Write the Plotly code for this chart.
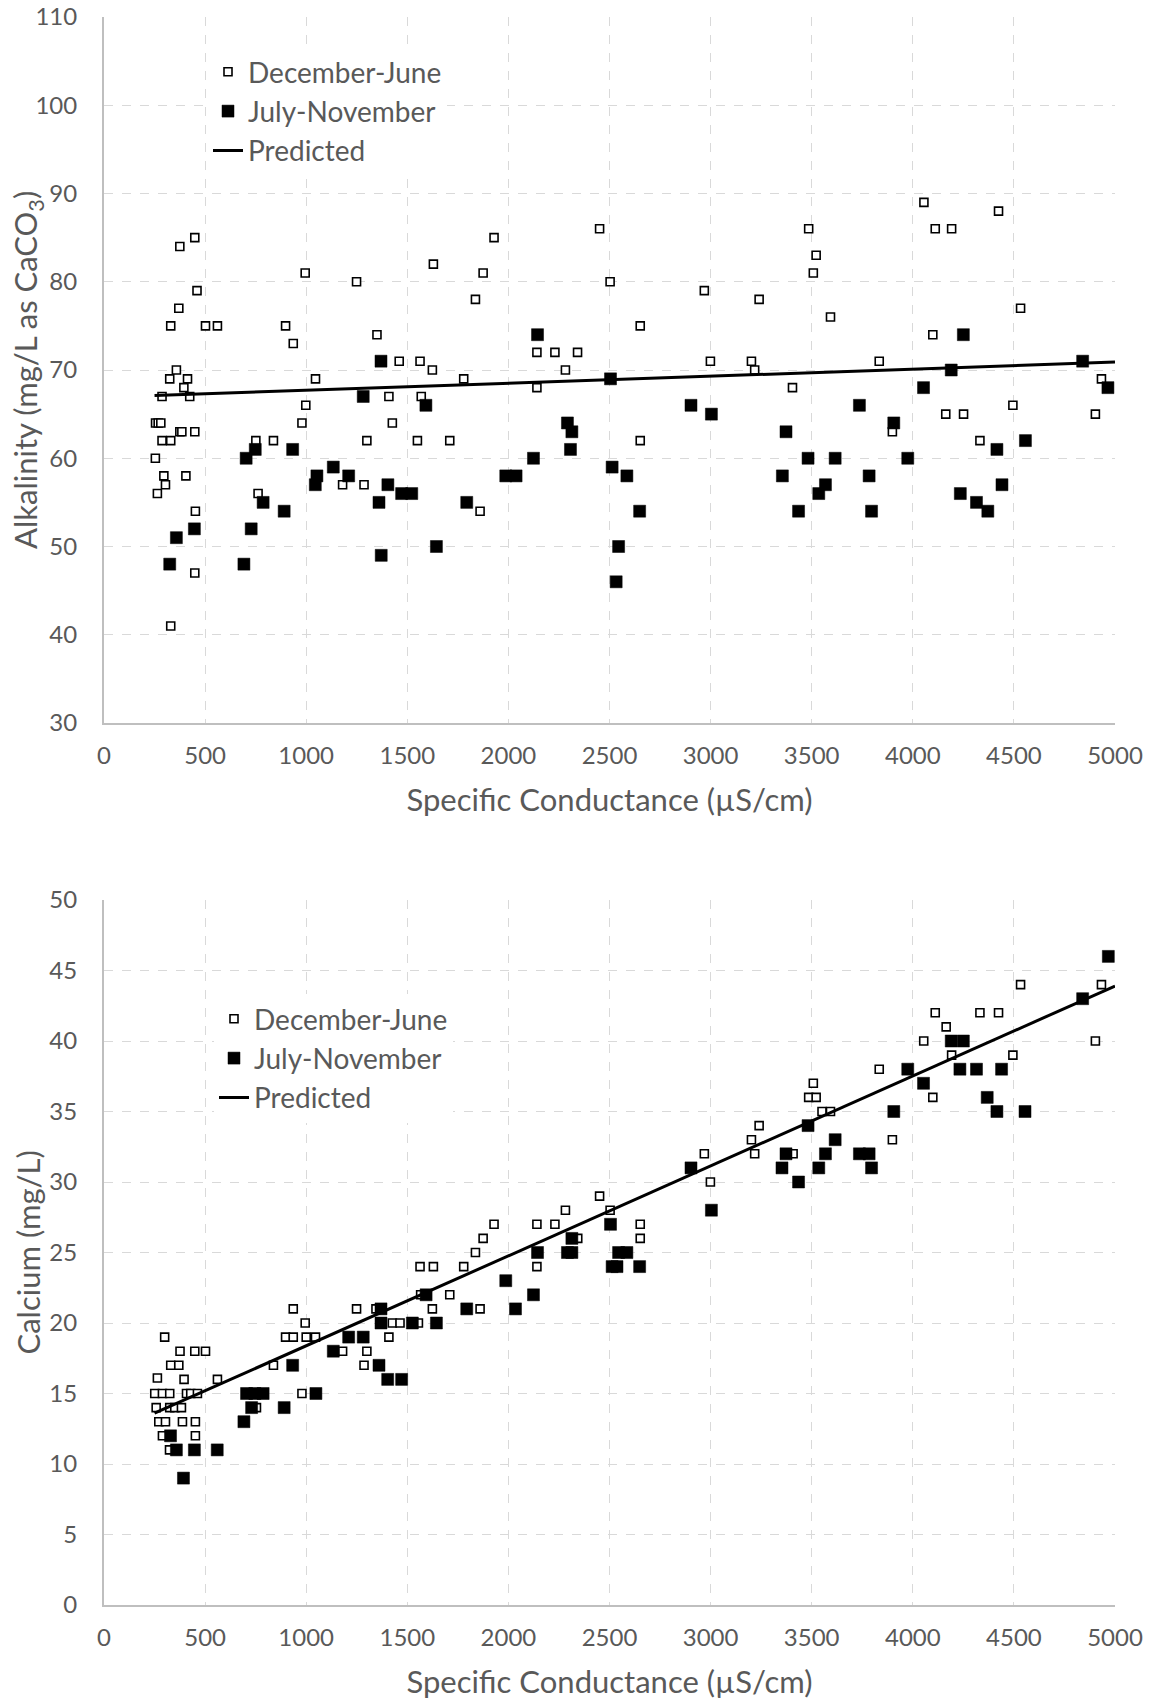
import plotly.graph_objects as go

# ---------------- Alkalinity (top) ----------------
alk_dec_x = [375, 449, 460, 370, 330, 502, 561, 898, 936, 995, 1249, 1350, 1629, 1460, 1563, 1624,
             358, 325, 413, 395, 1046, 287, 424, 1409, 1569, 998,
             255, 268, 281, 979, 1426, 287, 330, 375, 385, 449, 751, 838, 1300, 1550, 1710, 254,
             296, 405, 304, 264, 762, 1180, 1286, 452, 449, 330,
             1929, 1875, 1837, 2451, 2503, 2969, 3240, 2652, 2141, 2230, 2342, 2282, 2999, 3202, 3218,
             1779, 2141, 3405, 2652, 1860,
             3485, 3522, 3508, 3593, 3834, 4055, 4111, 4192, 4424, 4533, 4099, 4933, 4903, 4163, 4251,
             4495, 4332, 3899]
alk_dec_y = [84, 85, 79, 77, 75, 75, 75, 75, 73, 81, 80, 74, 82, 71, 71, 70,
             70, 69, 69, 68, 69, 67, 67, 67, 67, 66,
             64, 64, 64, 64, 64, 62, 62, 63, 63, 63, 62, 62, 62, 62, 62, 60,
             58, 58, 57, 56, 56, 57, 57, 54, 47, 41,
             85, 81, 78, 86, 80, 79, 78, 75, 72, 72, 72, 70, 71, 71, 70,
             69, 68, 68, 62, 54,
             86, 83, 81, 76, 71, 89, 86, 86, 88, 77, 74, 69, 65, 65, 65,
             66, 62, 63]

alk_jul_x = [1370, 1282, 1592, 703, 748, 933, 1134, 1053, 1045, 1210, 1404, 787, 1360, 1472, 1522,
             891, 447, 728, 358, 1644, 1371, 325, 692,
             2144, 2505, 2903, 3004, 2292, 2314, 2307, 3373, 2124, 1987, 2038, 2513, 2586, 3355,
             1794, 2649, 3435, 2545, 2533,
             4250, 4840, 4190, 4053, 4965, 3736, 3906, 4557, 4416, 3482, 3616, 3975, 3784, 3568,
             3535, 4441, 4235, 4315, 4371, 3796]
alk_jul_y = [71, 67, 66, 60, 61, 61, 59, 58, 57, 58, 57, 55, 55, 56, 56,
             54, 52, 52, 51, 50, 49, 48, 48,
             74, 69, 66, 65, 64, 63, 61, 63, 60, 58, 58, 59, 58, 58,
             55, 54, 54, 50, 46,
             74, 71, 70, 68, 68, 66, 64, 62, 61, 60, 60, 60, 58, 57,
             56, 57, 56, 55, 54, 54]

alk_pred_x = [250, 5000]
alk_pred_y = [67.1, 70.9]

# ---------------- Calcium (bottom) ----------------
ca_dec_x = [300, 376, 449, 502, 330, 370, 264, 396, 561, 251, 289, 325, 408, 429, 462,
            258, 325, 350, 383, 271, 304, 388, 452, 289, 452, 324,
            936, 995, 898, 936, 1000, 1046, 838, 979, 754, 1249, 1345, 1426, 1464, 1555, 1409,
            1180, 1300, 1286, 1563, 1629, 1566, 1624, 1710,
            1779, 1837, 1875, 1929, 1860, 2141, 2230, 2141, 2282, 2343, 2451, 2503, 2652, 2652,
            2969, 2999, 3202, 3240, 3218, 3408,
            3508, 3485, 3522, 3551, 3593, 3834, 3899, 4054, 4111, 4165, 4192, 4099, 4332, 4424,
            4533, 4495, 4933, 4903]
ca_dec_y = [19, 18, 18, 18, 17, 17, 16.1, 16, 16, 15, 15, 15, 15, 15, 15,
            14, 14, 14, 14, 13, 13, 13, 13, 12, 12, 11,
            21, 20, 19, 19, 19, 19, 17, 15, 14, 21, 21, 20, 20, 20, 19,
            18, 18, 17, 24, 24, 22, 21, 22,
            24, 25, 26, 27, 21, 27, 27, 24, 28, 26, 29, 28, 27, 26,
            32, 30, 33, 34, 32, 32,
            37, 36, 36, 35, 35, 38, 33, 40, 42, 41, 39, 36, 42, 42,
            44, 39, 44, 40]

ca_jul_x = [329, 358, 447, 560, 393, 692, 730, 705, 746, 787, 891, 933, 1048, 1134, 1210, 1282,
            1370, 1370, 1360, 1403, 1472, 1525, 1593, 1644,
            1794, 1987, 2035, 2124, 2144, 2292, 2314, 2314, 2505, 2513, 2537, 2545, 2586, 2649,
            2903, 3004, 3373, 3353, 3435,
            4967, 4840, 4190, 4250, 3975, 4233, 4315, 4439, 4053, 4368, 3906, 4416, 4555, 3482,
            3616, 3568, 3736, 3784, 3535, 3796]
ca_jul_y = [12, 11, 11, 11, 9, 13, 14, 15, 15, 15, 14, 17, 15, 18, 19, 19,
            21, 20, 17, 16, 16, 20, 22, 20,
            21, 23, 21, 22, 25, 25, 25, 26, 27, 24, 24, 25, 25, 24,
            31, 28, 32, 31, 30,
            46, 43, 40, 40, 38, 38, 38, 38, 37, 36, 35, 35, 35, 34,
            33, 32, 32, 32, 31, 31]

ca_pred_x = [250, 5000]
ca_pred_y = [13.6, 43.9]

x_ticks = list(range(0, 5001, 500))

TXT = "#595959"
GRID = "#d9d9d9"
AXL = "#bfbfbf"
FONT = "Lato"

fig = go.Figure()

def add_set(xa, ya, dx, dy, jx, jy, px, py, legend):
    fig.add_trace(go.Scatter(x=dx, y=dy, mode="markers", name="December-June",
                             xaxis=xa, yaxis=ya, legend=legend,
                             marker=dict(symbol="square", size=8, color="white",
                                         line=dict(color="black", width=1.6))))
    fig.add_trace(go.Scatter(x=jx, y=jy, mode="markers", name="July-November",
                             xaxis=xa, yaxis=ya, legend=legend,
                             marker=dict(symbol="square", size=12, color="black",
                                         line=dict(color="black", width=0.5))))
    fig.add_trace(go.Scatter(x=px, y=py, mode="lines", name="Predicted",
                             xaxis=xa, yaxis=ya, legend=legend,
                             line=dict(color="black", width=3)))

add_set("x", "y", alk_dec_x, alk_dec_y, alk_jul_x, alk_jul_y, alk_pred_x, alk_pred_y, "legend")
add_set("x2", "y2", ca_dec_x, ca_dec_y, ca_jul_x, ca_jul_y, ca_pred_x, ca_pred_y, "legend2")

W, H = 1151, 1702
ml, mr, mt, mb = 104, 36, 17, 97
ph = H - mt - mb

def pfy(py):
    return (H - mb - py) / ph

xcommon = dict(range=[0, 5000], tickvals=x_ticks, showgrid=True, gridcolor=GRID,
               griddash="dash", gridwidth=1, showline=True, linecolor=AXL, linewidth=2,
               zeroline=False, ticks="outside", ticklen=10, tickcolor="rgba(0,0,0,0)",
               automargin=False,
               tickfont=dict(family=FONT, size=24, color=TXT),
               title=dict(text="Specific Conductance (µS/cm)",
                          font=dict(family=FONT, size=31, color=TXT), standoff=22))
ycommon = dict(showgrid=True, gridcolor=GRID, griddash="dash", gridwidth=1,
               showline=True, linecolor=AXL, linewidth=2, zeroline=False,
               ticks="outside", ticklen=20, tickcolor="rgba(0,0,0,0)", automargin=False,
               tickfont=dict(family=FONT, size=24, color=TXT))

legcommon = dict(bgcolor="white", borderwidth=0, font=dict(family=FONT, size=28, color=TXT),
                 xanchor="left", yanchor="top", tracegroupgap=0, itemwidth=30)

top_dom = [pfy(723), 1]
bot_dom = [0, pfy(900)]

fig.update_layout(
    width=W, height=H, autosize=False,
    margin=dict(l=ml, r=mr, t=mt, b=mb),
    paper_bgcolor="white", plot_bgcolor="white",
    font=dict(family=FONT, color=TXT),
    xaxis=dict(domain=[0, 1], anchor="y", **xcommon),
    yaxis=dict(domain=top_dom, anchor="x", range=[30, 110], dtick=10, **ycommon),
    xaxis2=dict(domain=[0, 1], anchor="y2", **xcommon),
    yaxis2=dict(domain=bot_dom, anchor="x2", range=[0, 50], dtick=5, **ycommon),
    legend=dict(x=(208 - ml) / 1011, y=pfy(47), **legcommon),
    legend2=dict(x=(214 - ml) / 1011, y=pfy(994), **legcommon),
    annotations=[
        dict(text="Alkalinity (mg/L as CaCO<sub>3</sub>)", textangle=-90,
             xref="paper", yref="paper", x=0, xshift=-77, y=sum(top_dom) / 2,
             xanchor="center", yanchor="middle", showarrow=False,
             font=dict(family=FONT, size=31, color=TXT)),
        dict(text="Calcium (mg/L)", textangle=-90,
             xref="paper", yref="paper", x=0, xshift=-77, y=sum(bot_dom) / 2,
             xanchor="center", yanchor="middle", showarrow=False,
             font=dict(family=FONT, size=31, color=TXT)),
    ],
)

fig.write_html("out.html")
